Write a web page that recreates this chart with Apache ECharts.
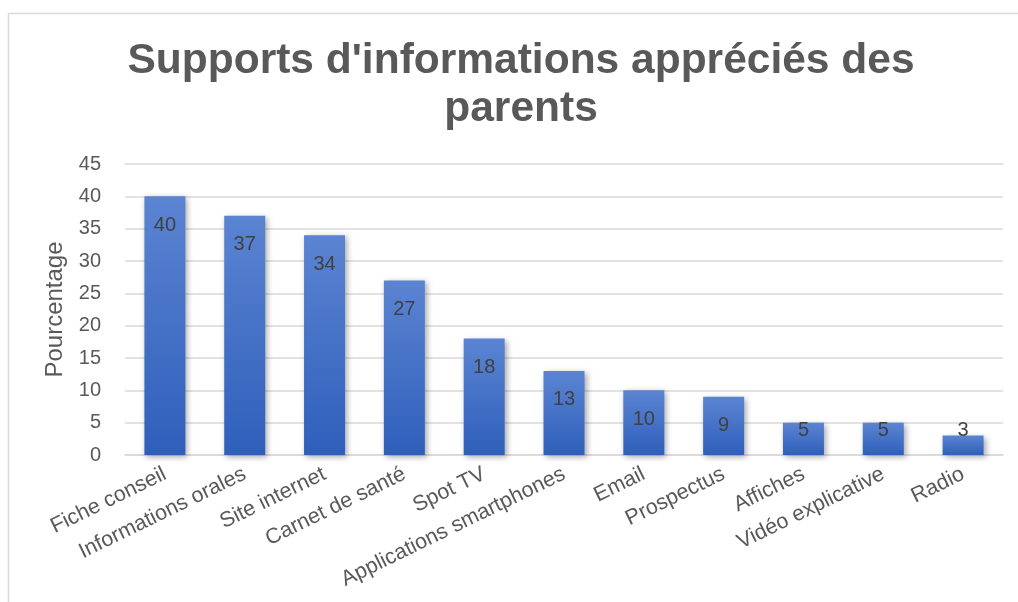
<!DOCTYPE html>
<html>
<head>
<meta charset="utf-8">
<script src="https://cdn.jsdelivr.net/npm/echarts@6/dist/echarts.min.js"></script>
<style>
html,body{margin:0;padding:0;background:#fff;}
#c{width:1018px;height:602px;}
</style>
</head>
<body>
<div id="c"></div>
<script>
const titleText = "Supports d'informations appréciés des\nparents";
const yAxisName = "Pourcentage";
const categories = ["Fiche conseil","Informations orales","Site internet","Carnet de santé","Spot TV","Applications smartphones","Email","Prospectus","Affiches","Vidéo explicative","Radio"];
const values = [40,37,34,27,18,13,10,9,5,5,3];
const yMin = 0, yMax = 45, yStep = 5;

const chart = echarts.init(document.getElementById('c'), null, {renderer:'canvas'});
const barData = values.map(v => ({
  value: v,
  label: v >= 8
    ? {position:'insideTop', distance:19}
    : {position:'insideBottom', distance:15}
}));
chart.setOption({
  backgroundColor:'#fff',
  animation:false,
  title:{
    text:titleText,
    left:516, top:32, textAlign:'center',
    textStyle:{fontFamily:'Liberation Sans, Arial', fontSize:42.5, fontWeight:'bold', color:'#595959', lineHeight:48}
  },
  graphic:[
    {type:'line', shape:{x1:8.5,y1:13.5,x2:1018,y2:13.5}, style:{stroke:'#d9d9d9', lineWidth:1.5}},
    {type:'line', shape:{x1:8.5,y1:13.5,x2:8.5,y2:602}, style:{stroke:'#d9d9d9', lineWidth:1.5}}
  ],
  grid:{left:125, right:15, top:164, bottom:147},
  xAxis:{
    type:'category', data:categories,
    axisTick:{show:false},
    axisLine:{lineStyle:{color:'#d9d9d9', width:1.5}},
    axisLabel:{rotate:26, interval:0, margin:18, fontFamily:'Liberation Sans, Arial', fontSize:21.5, color:'#595959'}
  },
  yAxis:{
    type:'value', min:yMin, max:yMax, interval:yStep,
    name:yAxisName, nameLocation:'middle', nameGap:57, nameRotate:90,
    nameTextStyle:{fontFamily:'Liberation Sans, Arial', fontSize:24, color:'#595959'},
    axisLine:{show:false}, axisTick:{show:false},
    axisLabel:{margin:24, fontFamily:'Liberation Sans, Arial', fontSize:20, color:'#595959'},
    splitLine:{lineStyle:{color:'#d9d9d9', width:1.5}}
  },
  series:[{
    type:'bar', data:barData, barWidth:41,
    itemStyle:{
      color:new echarts.graphic.LinearGradient(0,0,0,1,[{offset:0,color:'#5b84d2'},{offset:1,color:'#2f5fbb'}]),
      shadowColor:'rgba(0,0,0,0.35)', shadowBlur:6, shadowOffsetX:2, shadowOffsetY:2
    },
    label:{show:true, fontFamily:'Liberation Sans, Arial', fontSize:20, color:'#404040'}
  }]
});
</script>
</body>
</html>
